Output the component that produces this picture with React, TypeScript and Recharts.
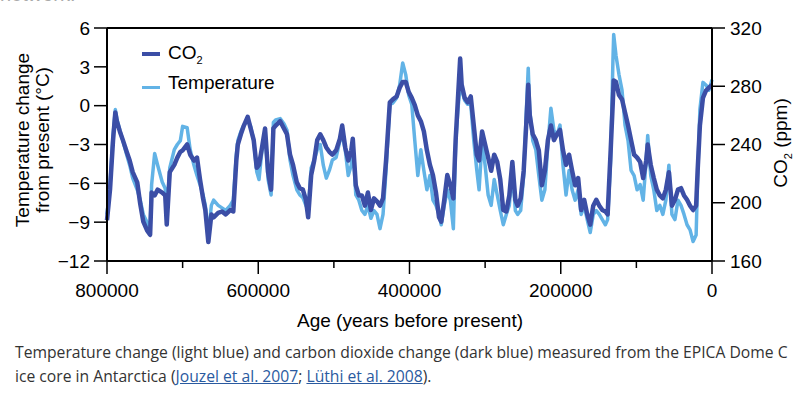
import { LineChart, Line, XAxis, YAxis, ReferenceLine } from 'recharts';

// age in thousands of years before present
const agesKyr = [
  800, 796, 792, 789, 787, 783, 779, 774, 770, 766,
  760, 756, 752, 747, 743, 741, 737, 733, 727, 723,
  721, 717, 711, 707, 703, 700, 694, 690, 685, 681,
  677, 673, 670, 666, 662, 659, 653, 648, 643, 637,
  633, 629, 627, 623, 619, 614, 610, 606, 602, 599,
  595, 591, 587, 583, 580, 577, 571, 566, 562, 558,
  554, 549, 545, 541, 537, 534, 530, 526, 522, 518,
  514, 510, 506, 502, 497, 492, 489, 485, 481, 477,
  475, 471, 467, 463, 459, 455, 451, 447, 443, 439,
  435, 431, 428, 426, 422, 417, 413, 409, 405, 401,
  397, 393, 389, 385, 381, 377, 373, 369, 365, 361,
  358, 354, 350, 346, 342, 339, 336, 333, 331, 327,
  323, 319, 315, 311, 308, 304, 300, 296, 292, 288,
  284, 280, 276, 272, 268, 264, 260, 257, 253, 249,
  246, 243, 241, 237, 233, 229, 225, 221, 217, 213,
  209, 205, 201, 197, 193, 189, 185, 181, 177, 173,
  169, 165, 161, 157, 153, 149, 145, 141, 138, 134,
  131, 130, 127, 123, 119, 115, 111, 107, 103, 99,
  95, 91, 87, 85, 81, 77, 73, 69, 65, 61,
  57, 53, 49, 45, 41, 37, 33, 29, 25, 21,
  19, 16, 12, 8, 4, 0,
];

const co2Ppm = [
  188, 209, 243, 262, 256, 249, 243, 235, 229, 221,
  214, 199, 187, 181, 178, 207, 205, 209, 207, 205,
  185, 221, 226, 231, 235, 236, 240, 233, 229, 231,
  216, 203, 195, 173, 192, 190, 193, 194, 192, 195,
  194, 229, 240, 247, 253, 259, 251, 243, 224, 226,
  238, 251, 221, 209, 251, 253, 256, 251, 247, 233,
  226, 214, 210, 209, 202, 190, 219, 229, 243, 247,
  243, 238, 235, 233, 236, 244, 253, 238, 229, 236,
  244, 212, 205, 205, 198, 207, 195, 203, 201, 198,
  203, 229, 253, 269, 271, 273, 279, 283, 283, 276,
  272, 267, 260, 256, 249, 236, 226, 219, 207, 190,
  187, 202, 219, 212, 203, 243, 271, 299, 281, 272,
  269, 273, 253, 233, 229, 249, 240, 231, 222, 233,
  228, 216, 195, 194, 205, 228, 202, 198, 203, 222,
  250, 281, 260, 247, 243, 236, 212, 222, 243, 253,
  243, 247, 250, 236, 226, 233, 222, 212, 217, 195,
  202, 192, 185, 198, 202, 198, 195, 194, 192, 236,
  271, 284, 283, 274, 271, 262, 253, 243, 233, 231,
  228, 217, 229, 240, 226, 217, 209, 205, 203, 209,
  221, 198, 202, 209, 210, 205, 202, 198, 195, 198,
  222, 253, 272, 277, 279, 281,
];

const temperatureC = [
  -8.4, -6.1, -2.3, -0.3, -1.0, -1.9, -2.7, -3.8, -4.6, -5.6,
  -6.5, -7.3, -8.4, -9.0, -9.5, -6.1, -3.7, -4.6, -5.9, -6.4,
  -8.4, -4.8, -3.4, -3.0, -2.7, -1.6, -1.7, -3.4, -4.6, -5.4,
  -6.1, -6.9, -7.7, -10.0, -7.7, -7.3, -7.7, -7.9, -8.1, -7.7,
  -7.3, -3.8, -2.7, -2.0, -1.5, -1.1, -1.6, -2.7, -5.1, -5.7,
  -3.4, -2.0, -5.7, -6.9, -1.3, -1.1, -1.0, -1.4, -1.9, -4.2,
  -5.4, -6.5, -6.9, -7.1, -7.7, -8.1, -4.8, -4.2, -3.4, -3.0,
  -4.6, -5.6, -5.0, -4.2, -4.0, -2.7, -2.3, -3.4, -5.4, -4.6,
  -3.0, -6.9, -7.3, -8.1, -8.4, -7.7, -8.7, -8.1, -8.4, -9.5,
  -8.4, -5.0, -1.9, 0.1, 0.2, 0.6, 1.6, 3.3, 2.4, 0.8,
  0.1, -2.7, -5.4, -3.4, -5.0, -6.5, -5.4, -7.3, -7.7, -8.4,
  -9.2, -7.7, -6.5, -7.3, -9.5, -3.0, -0.3, 1.6, 1.2, 0.4,
  0.1, 0.1, -2.7, -5.0, -6.5, -2.7, -4.6, -6.9, -7.7, -5.7,
  -6.9, -8.1, -9.2, -8.4, -7.7, -5.0, -8.1, -8.4, -8.1, -5.4,
  -1.1, 2.9, -0.3, -2.7, -3.4, -5.4, -7.3, -6.5, -3.0, -0.2,
  -1.9, -2.3, -1.5, -4.6, -6.9, -5.0, -6.5, -7.3, -6.5, -8.4,
  -7.7, -8.8, -9.8, -8.4, -8.1, -8.4, -8.8, -9.2, -8.8, -4.2,
  3.5, 5.5, 3.9, 2.4, 1.2, -1.5, -2.7, -5.0, -5.4, -6.5,
  -6.1, -7.3, -4.2, -2.3, -5.4, -6.5, -8.1, -7.7, -8.4, -7.3,
  -4.6, -8.4, -8.8, -7.3, -7.7, -8.4, -9.2, -9.6, -10.5, -10.0,
  -5.7, -0.3, 1.8, 1.6, 1.2, 2.0,
];

const ageTicks = [0, 100000, 200000, 300000, 400000, 500000, 600000, 700000, 800000];
const tempTicks = [-12, -9, -6, -3, 0, 3, 6];
const co2Ticks = [160, 200, 240, 280, 320];

const data = agesKyr.map((a, i) => ({ age: a * 1000, co2: co2Ppm[i], temp: temperatureC[i] }));

const DARK = '#3b4ea6';
const LIGHT = '#62b3e6';
const FONT = '"Liberation Sans", Arial, Helvetica, sans-serif';

const minus = (v: number) => String(v).replace('-', '\u2212');

const AgeTick = (props: any) => {
  const { x, y, payload } = props;
  const major = payload.value % 200000 === 0;
  return (
    <g>
      <line x1={x} x2={x} y1={y} y2={y + (major ? 13 : 7)} stroke="#000" strokeWidth={1.5} />
      {major && (
        <text x={x} y={y + 36} textAnchor="middle" fontSize={19} fill="#000" fontFamily={FONT}>
          {payload.value}
        </text>
      )}
    </g>
  );
};

export default function App() {
  return (
    <div
      style={{
        position: 'absolute',
        left: 0,
        top: 0,
        width: 800,
        height: 399,
        background: '#fff',
        overflow: 'hidden',
        fontFamily: FONT,
      }}
    >
      {/* bottom edge of the text above the figure, cut off in the source */}
      <div style={{ position: 'absolute', left: 0, top: -17, fontSize: 20, color: '#aaa', height: 22, overflow: 'hidden' }}>
        network.
      </div>

      <LineChart width={800} height={320} data={data} margin={{ top: 28, right: 28, bottom: 19, left: 47 }}>
        <XAxis
          dataKey="age"
          type="number"
          domain={[0, 800000]}
          reversed
          ticks={ageTicks}
          interval={0}
          height={40}
          tickSize={0}
          tickMargin={0}
          tickLine={false}
          tick={<AgeTick />}
          axisLine={{ stroke: '#000', strokeWidth: 2 }}
        />
        <YAxis
          yAxisId="left"
          domain={[-12, 6]}
          ticks={tempTicks}
          interval={0}
          width={60}
          tickSize={13}
          tickMargin={4}
          tickFormatter={minus}
          tick={{ fontSize: 19, fill: '#000', fontFamily: FONT }}
          tickLine={{ stroke: '#000', strokeWidth: 1.5 }}
          axisLine={{ stroke: '#000', strokeWidth: 2 }}
        />
        <YAxis
          yAxisId="right"
          orientation="right"
          domain={[160, 320]}
          ticks={co2Ticks}
          interval={0}
          width={60}
          tickSize={13}
          tickMargin={5}
          tick={{ fontSize: 19, fill: '#000', fontFamily: FONT }}
          tickLine={{ stroke: '#000', strokeWidth: 1.5 }}
          axisLine={{ stroke: '#000', strokeWidth: 2 }}
        />
        <ReferenceLine yAxisId="left" y={6} stroke="#000" strokeWidth={2} />
        <Line
          yAxisId="left"
          dataKey="temp"
          name="Temperature"
          type="linear"
          stroke={LIGHT}
          strokeWidth={3.5}
          dot={false}
          isAnimationActive={false}
          strokeLinejoin="round"
        />
        <Line
          yAxisId="right"
          dataKey="co2"
          name="CO2"
          type="linear"
          stroke={DARK}
          strokeWidth={4.5}
          dot={false}
          isAnimationActive={false}
          strokeLinejoin="round"
        />
      </LineChart>

      {/* legend */}
      <div style={{ position: 'absolute', left: 142, top: 38, fontSize: 19, color: '#000' }}>
        <div style={{ display: 'flex', alignItems: 'center', height: 30 }}>
          <span style={{ display: 'inline-block', width: 18, height: 4, background: DARK, marginRight: 8, marginTop: 2 }} />
          <span>
            CO<span style={{ fontSize: 11, position: 'relative', top: 5 }}>2</span>
          </span>
        </div>
        <div style={{ display: 'flex', alignItems: 'center', height: 30 }}>
          <span style={{ display: 'inline-block', width: 18, height: 3, background: LIGHT, marginRight: 8, marginTop: 8 }} />
          <span>Temperature</span>
        </div>
      </div>

      <div
        style={{
          position: 'absolute',
          left: 33,
          top: 140,
          transform: 'translate(-50%, -50%) rotate(-90deg)',
          whiteSpace: 'nowrap',
          fontSize: 19,
          lineHeight: '20px',
          textAlign: 'center',
          color: '#000',
        }}
      >
        Temperature change
        <br />
        from present (°C)
      </div>
      <div
        style={{
          position: 'absolute',
          left: 781,
          top: 143,
          transform: 'translate(-50%, -50%) rotate(-90deg)',
          whiteSpace: 'nowrap',
          fontSize: 19,
          color: '#000',
        }}
      >
        CO<span style={{ fontSize: 11, position: 'relative', top: 5 }}>2</span> (ppm)
      </div>
      <div
        style={{
          position: 'absolute',
          left: 410,
          top: 321,
          transform: 'translate(-50%, -50%)',
          whiteSpace: 'nowrap',
          fontSize: 19,
          color: '#000',
        }}
      >
        Age (years before present)
      </div>

      <div
        style={{
          position: 'absolute',
          left: 15,
          top: 340,
          width: 800,
          whiteSpace: 'nowrap',
          fontFamily: '"Open Sans", "Noto Sans", sans-serif',
          fontSize: 15.7,
          lineHeight: '24px',
          color: '#333',
        }}
      >
        Temperature change (light blue) and carbon dioxide change (dark blue) measured from the EPICA Dome C
        <br />
        ice core in Antarctica (
        <span style={{ color: '#2a5aa0', textDecoration: 'underline' }}>Jouzel et al. 2007</span>;{' '}
        <span style={{ color: '#2a5aa0', textDecoration: 'underline' }}>Lüthi et al. 2008</span>).
      </div>
    </div>
  );
}
